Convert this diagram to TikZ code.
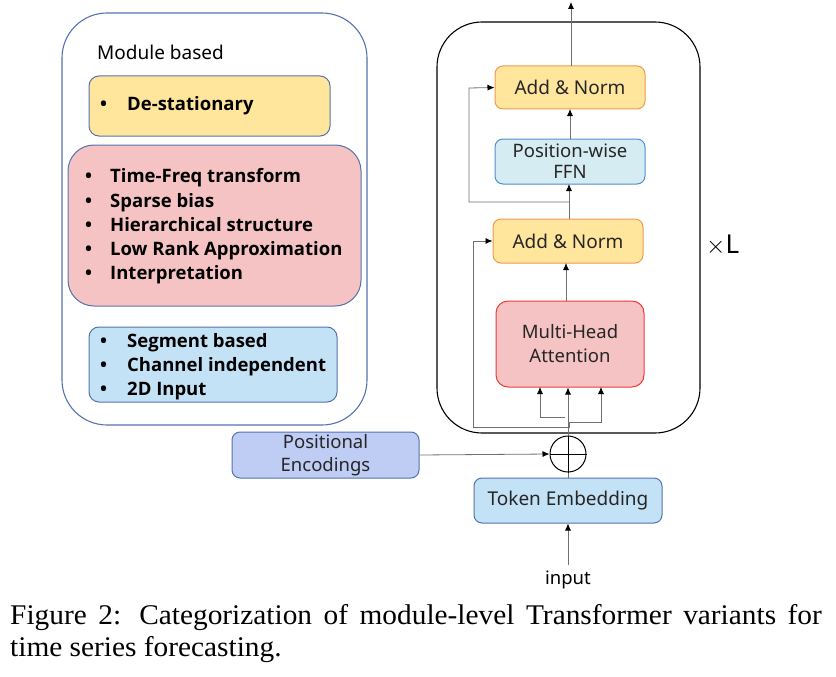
\documentclass[tikz,border=0pt]{standalone}
\usepackage{fontspec}
\setmainfont{Liberation Serif}
\newfontfamily\dsans{Noto Sans}
\newfontfamily\bsans{Open Sans}
\usetikzlibrary{arrows.meta,calc}
\definecolor{slate}{HTML}{5573AC}
\definecolor{yelfill}{HTML}{FFE69C}
\definecolor{orgbord}{HTML}{ED9A4E}
\definecolor{pinkfill}{HTML}{F5C3C3}
\definecolor{redbord}{HTML}{F03A3A}
\definecolor{skyfill}{HTML}{C4E2F6}
\definecolor{cyanfill}{HTML}{D6ECF3}
\definecolor{cyanbord}{HTML}{4F8FCF}
\definecolor{lavfill}{HTML}{BFCDF4}
\definecolor{linegray}{HTML}{707070}
\tikzset{
  box/.style={draw, line width=1pt, rounded corners=8pt, inner sep=0pt, align=center,
    font=\dsans\fontsize{19}{22}\selectfont, text=black!85},
  conn/.style={draw=linegray, line width=0.8pt},
  arr/.style={conn, -{Latex[length=7pt,width=6pt,color=black]}},
  lst/.style={anchor=west, inner sep=0pt, align=left,
    font=\bsans\bfseries\fontsize{18.5}{24.3}\selectfont},
}
\newcommand{\bul}[1]{\makebox[#1][l]{\textbullet}}
\begin{document}
\begin{tikzpicture}[x=1pt,y=-1pt]
\useasboundingbox (0,0) rectangle (836,677);
% left group
\node[draw=slate, line width=1.1pt, rounded corners=45pt, minimum width=305pt, minimum height=412pt] (lout) at (214.5,219) {};
\node[anchor=west, inner sep=0pt, font=\dsans\fontsize{19}{22}\selectfont] (mb) at (97,52) {Module based};
\node[draw=slate, fill=yelfill, line width=1pt, rounded corners=10pt, minimum width=241pt, minimum height=60pt] (ly) at (209.5,106) {};
\node[draw=slate, fill=pinkfill, line width=1pt, rounded corners=26pt, minimum width=293pt, minimum height=161pt] (lr) at (214.5,225.5) {};
\node[draw=slate, fill=skyfill, line width=1pt, rounded corners=10pt, minimum width=248pt, minimum height=75pt] (lb) at (213,364.5) {};
\node[lst] (ly1) at (100,106) {\bul{27pt}De-stationary};
\node[lst] (lr1) at (85,226.5) {\bul{25pt}Time-Freq transform\\\bul{25pt}Sparse bias\\\bul{25pt}Hierarchical structure\\\bul{25pt}Low Rank Approximation\\\bul{25pt}Interpretation};
\node[lst] (lb1) at (100,366.5) {\bul{27pt}Segment based\\\bul{27pt}Channel independent\\\bul{27pt}2D Input};
% right group
\node[draw=black, line width=1.1pt, rounded corners=45pt, minimum width=263pt, minimum height=411pt] (rout) at (568.5,227.5) {};
\node[box, draw=orgbord, fill=yelfill, minimum width=150pt, minimum height=43pt] (an2) at (570,87.5) {Add \& Norm};
\node[box, draw=cyanbord, fill=cyanfill, minimum width=150pt, minimum height=45pt, font=\dsans\fontsize{18.5}{21}\selectfont] (ffn) at (570,161.5) {Position-wise\\FFN};
\node[box, draw=orgbord, fill=yelfill, minimum width=150pt, minimum height=44pt] (an1) at (568,241) {Add \& Norm};
\node[box, draw=redbord, fill=pinkfill, minimum width=148pt, minimum height=86pt, rounded corners=12pt, font=\dsans\fontsize{18.5}{24}\selectfont] (mha) at (570,344) {Multi-Head\\Attention};
\node[draw=black, line width=1pt, circle, minimum size=36pt, inner sep=0pt] (plus) at (568,454) {};
\draw[black, line width=1pt] (plus.north) -- (plus.south) (plus.west) -- (plus.east);
\node[box, draw=slate, fill=skyfill, minimum width=188pt, minimum height=45pt] (tok) at (568,500.5) {Token Embedding};
\node[box, draw=slate, fill=lavfill, minimum width=187pt, minimum height=46pt, font=\dsans\fontsize{18.5}{23}\selectfont] (pe) at (325.5,455) {Positional\\Encodings};
\node[inner sep=0pt, font=\dsans\fontsize{18.5}{22}\selectfont] (inp) at (568,580) {input};
\node[anchor=west, inner sep=0pt, font=\dsans\fontsize{26}{30}\selectfont] (xl) at (706,245) {$\times$L};
\coordinate (out) at (571,2);
% connectors
\draw[arr] ($(inp.north)+(0,-6)$) -- (tok.south);
\draw[conn] (tok.north) -- (plus.south);
\draw[arr] (pe.east) -- (plus.west);
\draw[arr] (plus.north) -- (plus.north |- mha.south);
\draw[arr] (565,417) -| (540,387);
\draw[arr] (569,422) -| (601,387);
\draw[arr] (569,422) -- (569,427) -| (473,241) -- (an1.west);
\draw[arr] (566,301) -- (566,263);
\draw[arr] (569,219) -- (569,184);
\draw[arr] (569,202) -| (469,88) -- (an2.west);
\draw[arr] (570,139) -- (570,109);
\draw[arr] (571,66) -- (out);
% caption
\node[anchor=base west, inner sep=0pt, font=\fontsize{28.5}{32}\selectfont, xscale=1.03] (cap1) at (10,624) {\makebox[788pt][s]{Figure 2: Categorization of module-level Transformer variants for}};
\node[anchor=base west, inner sep=0pt, font=\fontsize{28.5}{32}\selectfont, xscale=1.03] (cap2) at (10,656) {time series forecasting.};
\end{tikzpicture}
\end{document}
